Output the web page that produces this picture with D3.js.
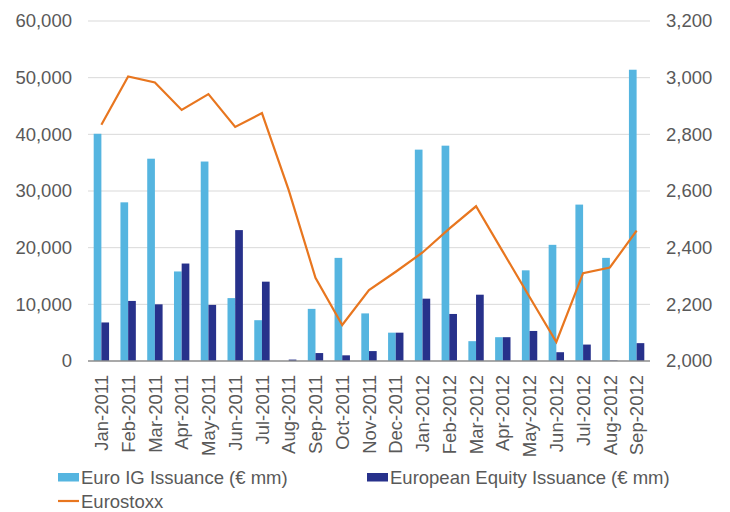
<!DOCTYPE html>
<html>
<head>
<meta charset="utf-8">
<script src="https://cdn.jsdelivr.net/npm/d3@7"></script>
<style>
  body { margin: 0; background: #fff; }
  svg text { font-family: "Liberation Sans", Arial, sans-serif; fill: #595959; }
</style>
</head>
<body>
<svg id="chart" width="730" height="512"></svg>
<script>
// Dados
const months = ["Jan-2011", "Feb-2011", "Mar-2011", "Apr-2011", "May-2011", "Jun-2011", "Jul-2011",
  "Aug-2011", "Sep-2011", "Oct-2011", "Nov-2011", "Dec-2011", "Jan-2012", "Feb-2012", "Mar-2012",
  "Apr-2012", "May-2012", "Jun-2012", "Jul-2012", "Aug-2012", "Sep-2012"];
const euroIG = [40100, 28000, 35700, 15800, 35200, 11100, 7200, 0, 9200, 18200, 8400, 5000,
  37300, 38000, 3500, 4200, 16000, 20500, 27600, 18200, 51400];
const equity = [6800, 10600, 10000, 17200, 9900, 23100, 14000, 250, 1400, 1000, 1750, 5000,
  11000, 8300, 11700, 4200, 5300, 1550, 2900, 100, 3150];
const eurostoxx = [2834, 3004, 2983, 2886, 2942, 2826, 2875, 2603, 2294, 2127, 2250, 2315,
  2383, 2467, 2546, 2386, 2226, 2067, 2310, 2330, 2460];
const leftTicks = [0, 10000, 20000, 30000, 40000, 50000, 60000];
const rightTicks = [2000, 2200, 2400, 2600, 2800, 3000, 3200];
const seriesNames = ["Euro IG Issuance (€ mm)", "European Equity Issuance (€ mm)", "Eurostoxx"];

const colors = { ig: "#55b5e0", eq: "#27318b", line: "#e8761f" };
const fontSize = "18.5px";

const svg = d3.select("#chart");
const margin = { top: 21, right: 80, bottom: 151, left: 88 };
const width = +svg.attr("width") - margin.left - margin.right;
const height = +svg.attr("height") - margin.top - margin.bottom;

const g = svg.append("g").attr("transform", `translate(${margin.left},${margin.top})`);

const x = d3.scaleBand().domain(months).range([0, width]).padding(0);
const x1 = d3.scaleBand().domain(["ig", "eq"]).range([0, x.bandwidth()]).paddingInner(0).paddingOuter(0.74);
const y = d3.scaleLinear().domain([0, 60000]).range([height, 0]);
const y2 = d3.scaleLinear().domain([2000, 3200]).range([height, 0]);

// Linhas de grade
g.append("g")
  .selectAll("line")
  .data(leftTicks.slice(1))
  .join("line")
  .attr("x1", 0).attr("x2", width)
  .attr("y1", d => y(d)).attr("y2", d => y(d))
  .attr("stroke", "#d9d9d9").attr("stroke-width", 1);

// Eixo esquerdo
const fmt = d3.format(",");
g.append("g")
  .selectAll("text")
  .data(leftTicks)
  .join("text")
  .attr("x", -16)
  .attr("y", d => y(d))
  .attr("dy", "0.35em")
  .attr("text-anchor", "end")
  .style("font-size", fontSize)
  .text(d => fmt(d));

// Eixo direito
g.append("g")
  .selectAll("text")
  .data(rightTicks)
  .join("text")
  .attr("x", width + 16)
  .attr("y", d => y2(d))
  .attr("dy", "0.35em")
  .attr("text-anchor", "start")
  .style("font-size", fontSize)
  .text(d => fmt(d));

// Barras
const groups = g.append("g")
  .selectAll("g")
  .data(months)
  .join("g")
  .attr("transform", d => `translate(${x(d)},0)`);

groups.append("rect")
  .attr("x", x1("ig"))
  .attr("width", x1.bandwidth())
  .attr("y", (d, i) => y(euroIG[i]))
  .attr("height", (d, i) => height - y(euroIG[i]))
  .attr("fill", colors.ig);

groups.append("rect")
  .attr("x", x1("eq"))
  .attr("width", x1.bandwidth())
  .attr("y", (d, i) => y(equity[i]))
  .attr("height", (d, i) => height - y(equity[i]))
  .attr("fill", colors.eq);

// Linha de base
g.append("line")
  .attr("x1", 0).attr("x2", width)
  .attr("y1", height).attr("y2", height)
  .attr("stroke", "#8c8c8c").attr("stroke-width", 1.3);

// Eurostoxx
const line = d3.line()
  .x((d, i) => x(months[i]) + x.bandwidth() / 2)
  .y(d => y2(d));

g.append("path")
  .datum(eurostoxx)
  .attr("fill", "none")
  .attr("stroke", colors.line)
  .attr("stroke-width", 2.2)
  .attr("d", line);

// Rótulos do eixo X
g.append("g")
  .selectAll("text")
  .data(months)
  .join("text")
  .attr("transform", d => `translate(${x(d) + x.bandwidth() / 2},${height + 14}) rotate(-90)`)
  .attr("dy", "0.36em")
  .attr("text-anchor", "end")
  .style("font-size", fontSize)
  .text(d => d);

// Legenda
const legend = svg.append("g");
const items = [
  { name: seriesNames[0], color: colors.ig, type: "rect", x: 58, y: 477 },
  { name: seriesNames[1], color: colors.eq, type: "rect", x: 367, y: 477 },
  { name: seriesNames[2], color: colors.line, type: "line", x: 58, y: 501 }
];

items.forEach(it => {
  if (it.type === "rect") {
    legend.append("rect")
      .attr("x", it.x).attr("y", it.y - 4)
      .attr("width", 21).attr("height", 8.5)
      .attr("fill", it.color);
  } else {
    legend.append("line")
      .attr("x1", it.x).attr("x2", it.x + 21)
      .attr("y1", it.y).attr("y2", it.y)
      .attr("stroke", it.color).attr("stroke-width", 2.2);
  }
  legend.append("text")
    .attr("x", it.x + 23)
    .attr("y", it.y)
    .attr("dy", "0.36em")
    .style("font-size", fontSize)
    .text(it.name);
});
</script>
</body>
</html>
